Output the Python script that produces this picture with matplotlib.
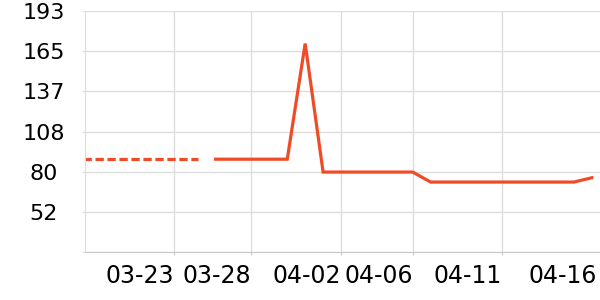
import matplotlib
matplotlib.use("Agg")
import matplotlib.pyplot as plt
import matplotlib.dates as mdates
import numpy as np

# dashed (earlier) segment and solid segment, daily values
dash_dates = np.arange(np.datetime64('2024-03-18'), np.datetime64('2024-03-26'))
dash_vals = [89, 89, 89, 89, 89, 89, 89, 89]

solid_dates = np.arange(np.datetime64('2024-03-26'), np.datetime64('2024-04-17'))
solid_vals = [89, 89, 89, 89, 89, 170, 80, 80, 80, 80, 80, 80,
              73, 73, 73, 73, 73, 73, 73, 73, 73, 76]

tick_dates = np.array(['2024-03-23T16:00', '2024-03-28T00:00', '2024-04-02T00:00',
                       '2024-04-06T00:00', '2024-04-11T00:00', '2024-04-16T07:00'],
                      dtype='datetime64[m]')
tick_labels = ['03-23', '03-28', '04-02', '04-06', '04-11', '04-16']

y_min, y_max = 23.8, 193
y_ticks = np.linspace(y_min, y_max, 7)
y_labels = [''] + [str(int(round(v))) for v in y_ticks[1:]]

x_range = np.array(['2024-03-18T17:00', '2024-04-16T11:00'], dtype='datetime64[m]')

color = '#f04b27'
grid_c = '#dddddd'

fig = plt.figure(figsize=(6, 3), dpi=100)
ax = fig.add_axes([85/600, 1 - 252.3/300, 515/600, (252.3 - 10.7)/300])

ax.plot(dash_dates, dash_vals, color=color, lw=2.3, ls=(0.3, (2.6, 1.15)))
ax.plot(solid_dates, solid_vals, color=color, lw=2.3, solid_joinstyle='miter')

ax.set_xlim(mdates.date2num(x_range[0]), mdates.date2num(x_range[1]))
ax.set_ylim(y_min, y_max)

ax.set_xticks(mdates.date2num(tick_dates))
ax.set_xticklabels(tick_labels, ha='right', fontsize=17)
ax.set_yticks(y_ticks)
ax.set_yticklabels(y_labels, ha='center', fontsize=16)

ax.grid(True, color=grid_c, lw=1)
ax.set_axisbelow(True)
for side in ['top', 'right']:
    ax.spines[side].set_visible(False)
ax.spines['left'].set_color(grid_c)
ax.spines['bottom'].set_color('#c8c8c8')
ax.tick_params(axis='y', length=2.2, color=grid_c, pad=27.4)
ax.tick_params(axis='x', length=2.2, color='#c8c8c8', pad=6.5)

# last tick sits at the right edge: no grid line or tick mark there
last = ax.xaxis.get_major_ticks()[-1]
last.gridline.set_visible(False)
last.tick1line.set_visible(False)

fig.savefig('out.png', dpi=100)
